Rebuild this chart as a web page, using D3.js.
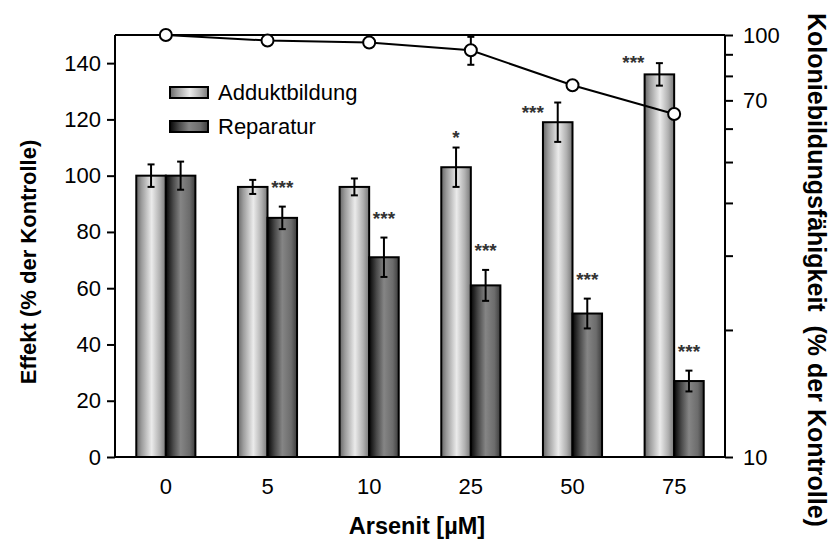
<!DOCTYPE html>
<html>
<head>
<meta charset="utf-8">
<script src="https://cdn.jsdelivr.net/npm/d3@7"></script>
<style>
  body { margin: 0; background: #fff; }
  text { font-family: "Liberation Sans", Arial, sans-serif; }
</style>
</head>
<body>
<div id="chart"></div>
<script>
// concentrations (µM)
var categories = ["0", "5", "10", "25", "50", "75"];
var seriesNames = ["Adduktbildung", "Reparatur"];
// bar values, % of control
var adduct = [100, 96, 96, 103, 119, 136];
var adductErr = [4, 2.5, 3, 7, 7, 4];
var repair = [100, 85, 71, 61, 51, 27];
var repairErr = [5, 4, 7, 5.5, 5.3, 3.7];
// colony forming ability (right, log axis)
var survival = [100, 97, 96, 92, 76, 65];
var survivalErr = [2.5, 0, 0, 7, 0, 0];
// significance marks
var adductSig = ["", "", "", "*", "***", "***"];
var repairSig = ["", "***", "***", "***", "***", "***"];
// tick labels
var leftTicks = [0, 20, 40, 60, 80, 100, 120, 140];
var rightLabels = [10, 70, 100];
var rightMinor = [20, 30, 40, 50, 60, 80, 90];

var width = 832, height = 539;
var plotLeft = 115, plotRight = 725, plotTop = 35, plotBottom = 457;

var svg = d3.select("#chart").append("svg")
    .attr("width", width)
    .attr("height", height);

var defs = svg.append("defs");
function gradient(id, stops) {
    var g = defs.append("linearGradient").attr("id", id)
        .attr("x1", "0%").attr("x2", "100%").attr("y1", "0%").attr("y2", "0%");
    stops.forEach(function(s) {
        g.append("stop").attr("offset", s[0]).attr("stop-color", s[1]);
    });
}
gradient("gAdd", [["0%", "#666666"], ["18%", "#9c9c9c"], ["52%", "#ebebeb"], ["80%", "#b0b0b0"], ["100%", "#777777"]]);
gradient("gRep", [["0%", "#050505"], ["25%", "#4a4a4a"], ["50%", "#858585"], ["80%", "#6c6c6c"], ["100%", "#3c3c3c"]]);
var fills = ["url(#gAdd)", "url(#gRep)"];

var x0 = d3.scaleBand().domain(categories).range([plotLeft, plotRight]);
var x1 = d3.scaleBand().domain(seriesNames).range([0, x0.bandwidth()]).paddingOuter(0.72);
var y = d3.scaleLinear().domain([0, 150]).range([plotBottom, plotTop]);
var yLog = d3.scaleLog().domain([10, 100]).range([plotBottom, plotTop]);

var rows = categories.map(function(c, i) {
    return {
        cat: c,
        bars: [
            {name: seriesNames[0], v: adduct[i], e: adductErr[i], sig: adductSig[i]},
            {name: seriesNames[1], v: repair[i], e: repairErr[i], sig: repairSig[i]}
        ],
        s: survival[i], se: survivalErr[i]
    };
});

// bars
var groups = svg.selectAll("g.grp")
    .data(rows)
    .enter()
    .append("g")
    .attr("class", "grp")
    .attr("transform", function(d) { return "translate(" + x0(d.cat) + ",0)"; });

groups.selectAll("rect")
    .data(function(d) { return d.bars; })
    .enter()
    .append("rect")
    .attr("x", function(d) { return x1(d.name); })
    .attr("y", function(d) { return y(d.v); })
    .attr("width", x1.bandwidth())
    .attr("height", function(d) { return y(0) - y(d.v); })
    .attr("fill", function(d, i) { return fills[i]; })
    .attr("stroke", "#000")
    .attr("stroke-width", 2);

// bar error bars
var eb = groups.selectAll("g.err")
    .data(function(d) { return d.bars; })
    .enter()
    .append("g")
    .attr("class", "err")
    .attr("stroke", "#000")
    .attr("stroke-width", 2);
eb.append("line")
    .attr("x1", function(d) { return x1(d.name) + x1.bandwidth() / 2; })
    .attr("x2", function(d) { return x1(d.name) + x1.bandwidth() / 2; })
    .attr("y1", function(d) { return y(d.v + d.e); })
    .attr("y2", function(d) { return y(d.v - d.e); });
[1, -1].forEach(function(sgn) {
    eb.append("line")
        .attr("x1", function(d) { return x1(d.name) + x1.bandwidth() / 2 - 3.5; })
        .attr("x2", function(d) { return x1(d.name) + x1.bandwidth() / 2 + 3.5; })
        .attr("y1", function(d) { return y(d.v + sgn * d.e); })
        .attr("y2", function(d) { return y(d.v + sgn * d.e); });
});

// significance asterisks; the adduct marks at 50/75 sit left of the bar
var sigShift = [0, 0, 0, 0, -25, -26];
var sigLift = [15, 15, 15, 15, -5, 5];
groups.each(function(d, gi) {
    var g = d3.select(this);
    d.bars.forEach(function(b, bi) {
        if (!b.sig) return;
        var cx = x1(b.name) + x1.bandwidth() / 2 + (bi === 0 ? sigShift[gi] : 0);
        var cy = y(b.v + b.e) - (bi === 0 ? sigLift[gi] : 24);
        g.append("text")
            .attr("x", cx)
            .attr("y", cy + 11)
            .attr("text-anchor", "middle")
            .attr("font-size", "19px")
            .attr("font-weight", "bold")
            .attr("fill", "#333")
            .text(b.sig);
    });
});

// frame lines
var frame = svg.append("g").attr("stroke", "#000").attr("stroke-width", 2);
frame.append("line").attr("x1", plotLeft).attr("x2", plotRight).attr("y1", plotTop).attr("y2", plotTop);
frame.append("line").attr("x1", plotLeft).attr("x2", plotLeft).attr("y1", plotTop).attr("y2", plotBottom);
frame.append("line").attr("x1", plotRight).attr("x2", plotRight).attr("y1", plotTop).attr("y2", plotBottom);
frame.append("line").attr("x1", plotLeft).attr("x2", plotRight).attr("y1", plotBottom).attr("y2", plotBottom);

// left axis
var yAxis = svg.append("g")
    .attr("transform", "translate(" + plotLeft + ",0)")
    .call(d3.axisLeft(y).tickValues(leftTicks).tickSize(8).tickPadding(6));
yAxis.select(".domain").remove();
yAxis.selectAll("line").attr("stroke-width", 2);
yAxis.selectAll("text").attr("font-size", "22px").attr("fill", "#000")
    .style("font-family", "'Liberation Sans', Arial, sans-serif");

// right log axis
var rAxis = svg.append("g")
    .attr("transform", "translate(" + plotRight + ",0)")
    .call(d3.axisRight(yLog).tickValues(rightLabels).tickFormat(d3.format("d")).tickSize(8).tickPadding(10));
rAxis.select(".domain").remove();
rAxis.selectAll("line").attr("stroke-width", 2);
rAxis.selectAll("text").attr("font-size", "22px").attr("fill", "#000")
    .style("font-family", "'Liberation Sans', Arial, sans-serif");
var rMinor = svg.append("g")
    .attr("transform", "translate(" + plotRight + ",0)")
    .call(d3.axisRight(yLog).tickValues(rightMinor).tickFormat("").tickSize(8));
rMinor.select(".domain").remove();
rMinor.selectAll("line").attr("stroke-width", 2);

// x axis labels
var xAxis = svg.append("g")
    .attr("transform", "translate(0," + plotBottom + ")")
    .call(d3.axisBottom(x0).tickSize(0).tickPadding(21));
xAxis.select(".domain").remove();
xAxis.selectAll("text").attr("font-size", "22px").attr("fill", "#000")
    .style("font-family", "'Liberation Sans', Arial, sans-serif");

// survival line
var line = d3.line()
    .x(function(d) { return x0(d.cat) + x0.bandwidth() / 2; })
    .y(function(d) { return yLog(d.s); });
svg.append("path")
    .datum(rows)
    .attr("d", line)
    .attr("fill", "none")
    .attr("stroke", "#000")
    .attr("stroke-width", 2);

var se = svg.selectAll("g.serr")
    .data(rows.filter(function(d) { return d.se > 0; }))
    .enter()
    .append("g")
    .attr("class", "serr")
    .attr("stroke", "#000")
    .attr("stroke-width", 2);
se.append("line")
    .attr("x1", function(d) { return x0(d.cat) + x0.bandwidth() / 2; })
    .attr("x2", function(d) { return x0(d.cat) + x0.bandwidth() / 2; })
    .attr("y1", function(d) { return yLog(d.s + d.se); })
    .attr("y2", function(d) { return yLog(d.s - d.se); });
[1, -1].forEach(function(sgn) {
    se.append("line")
        .attr("x1", function(d) { return x0(d.cat) + x0.bandwidth() / 2 - 3.5; })
        .attr("x2", function(d) { return x0(d.cat) + x0.bandwidth() / 2 + 3.5; })
        .attr("y1", function(d) { return yLog(d.s + sgn * d.se); })
        .attr("y2", function(d) { return yLog(d.s + sgn * d.se); });
});

svg.selectAll("circle.pt")
    .data(rows)
    .enter()
    .append("circle")
    .attr("class", "pt")
    .attr("cx", function(d) { return x0(d.cat) + x0.bandwidth() / 2; })
    .attr("cy", function(d) { return yLog(d.s); })
    .attr("r", 6)
    .attr("fill", "#fff")
    .attr("stroke", "#000")
    .attr("stroke-width", 2);

// legend
var legend = svg.selectAll("g.leg")
    .data(seriesNames)
    .enter()
    .append("g")
    .attr("class", "leg")
    .attr("transform", function(d, i) { return "translate(170," + (87 + i * 34) + ")"; });
legend.append("rect")
    .attr("width", 38).attr("height", 11)
    .attr("fill", function(d, i) { return fills[i]; })
    .attr("stroke", "#000").attr("stroke-width", 2);
legend.append("text")
    .attr("x", 48).attr("y", 13)
    .attr("font-size", "22px")
    .text(function(d) { return d; });

// axis titles
svg.append("text")
    .attr("transform", "translate(36,262) rotate(-90)")
    .attr("text-anchor", "middle")
    .attr("font-size", "22px").attr("font-weight", "bold")
    .text("Effekt (% der Kontrolle)");
svg.append("text")
    .attr("transform", "translate(808,270) rotate(90)")
    .attr("text-anchor", "middle")
    .attr("font-size", "25px").attr("font-weight", "bold")
    .style("white-space", "pre")
    .text("Koloniebildungsfähigkeit  (% der Kontrolle)");
svg.append("text")
    .attr("x", 417).attr("y", 534)
    .attr("text-anchor", "middle")
    .attr("font-size", "23.5px").attr("font-weight", "bold")
    .text("Arsenit [µM]");
</script>
</body>
</html>
